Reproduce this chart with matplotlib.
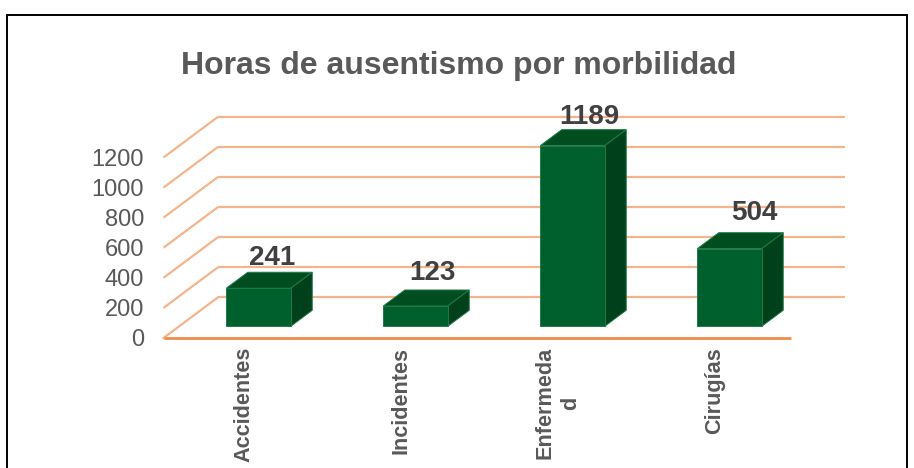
import matplotlib
matplotlib.use("Agg")
import matplotlib.pyplot as plt
from matplotlib.lines import Line2D
from matplotlib.patches import Polygon
from matplotlib.transforms import ScaledTranslation

plt.rcParams['font.family'] = ['Liberation Sans', 'DejaVu Sans']

categories = ["Accidentes", "Incidentes", "Enfermeda\nd", "Cirugías"]
values = [241, 123, 1189, 504]
y_ticks = [0, 200, 400, 600, 800, 1000, 1200]
title = "Horas de ausentismo por morbilidad"

W, H = 914, 468
fig = plt.figure(figsize=(W / 100, H / 100), dpi=100, facecolor='white')
L, R, B, T = 163.5, 791.5, 338.0, 157.5
ax = fig.add_axes([L / W, 1 - B / H, (R - L) / W, (B - T) / H])
ax.set_xlim(-0.5, 3.5)
ax.set_ylim(0, 1200)
ax.patch.set_visible(False)
for s in ax.spines.values():
    s.set_visible(False)

PX_X = 4 / (R - L)          # data units per pixel
PX_Y = 1200 / (B - T)
DX, DY = 54.5 * PX_X, 40.7 * PX_Y      # chart depth
BX, BY = 21.5 * PX_X, 16 * PX_Y        # bar depth
BAR_W = 64.5 * PX_X
BAR_SHIFT = 16.5 * PX_X
BAR_BASE = 11.7 * PX_Y
BAR_LIFT = 1.8 * PX_Y
GRID = '#F4B58C'
FLOOR = '#ED8D4A'
FRONT, TOP, SIDE = '#00602D', '#004D20', '#00401B'
EDGE = '#1E7A48'

# walls
x_end = 3.5 + (845 - 791.5) * PX_X
for v in y_ticks:
    if v > 0:
        ax.plot([-0.5, -0.5 + DX], [v, v + DY], color=GRID, lw=1.6, clip_on=False, zorder=1,
                solid_capstyle='butt')
    ax.plot([-0.5 + DX, x_end], [v + DY, v + DY], color=GRID, lw=1.6, clip_on=False, zorder=1,
            solid_capstyle='butt')
ax.plot([-0.5, -0.5 + DX], [0, DY], color=GRID, lw=1.6, clip_on=False, zorder=1)
ax.plot([-0.5, 3.5], [0, 0], color=FLOOR, lw=2.0, clip_on=False, zorder=2, solid_capstyle='butt')

# bars
positions = [i + BAR_SHIFT for i in range(len(values))]
for p, v in zip(positions, values):
    x0, x1 = p - BAR_W / 2, p + BAR_W / 2
    y0, y1 = BAR_BASE, v + BAR_BASE + BAR_LIFT
    ax.add_patch(Polygon([(x0, y1), (x1, y1), (x1 + BX, y1 + BY), (x0 + BX, y1 + BY)],
                         fc=TOP, ec=EDGE, lw=0.7, zorder=3, clip_on=False))
    ax.add_patch(Polygon([(x1, y0), (x1 + BX, y0 + BY), (x1 + BX, y1 + BY), (x1, y1)],
                         fc=SIDE, ec=EDGE, lw=0.7, zorder=3, clip_on=False))
ax.bar(positions, [v + BAR_LIFT for v in values], bottom=BAR_BASE, width=BAR_W,
       color=FRONT, edgecolor=EDGE, linewidth=0.7, zorder=4, clip_on=False)

# data labels
label_offsets = [(14, 30), (17, 33), (17, 29), (25, 36)]
for p, v, off in zip(positions, values, label_offsets):
    ax.annotate(str(v), xy=(p, v + BAR_BASE + BAR_LIFT), xytext=off,
                textcoords='offset pixels', ha='center', va='center', fontsize=20,
                fontweight='bold', color='#404040', zorder=6, annotation_clip=False)

# axes labels
ax.set_yticks(y_ticks)
ax.tick_params(axis='y', length=0, pad=14, labelsize=17, labelcolor='#595959')
ax.set_xticks(range(len(categories)))
ax.set_xticklabels(categories, rotation=90, ha='center', va='top', multialignment='center',
                   fontsize=15.6, fontweight='bold', color='#595959', linespacing=1.25)
ax.tick_params(axis='x', length=0, pad=6.5)
shift = ScaledTranslation(2 / 100, 0, fig.dpi_scale_trans)
for lab in ax.get_xticklabels():
    lab.set_transform(lab.get_transform() + shift)

fig.text(459 / W, 1 - 66 / H, title, ha='center', va='center', fontsize=23,
         fontweight='bold', color='#595959')

# outer frame
for xs, ys in [((7.5, 7.5), (468, 15)), ((7.5, 906.5), (15, 15)), ((906.5, 906.5), (15, 468))]:
    fig.add_artist(Line2D([x / W for x in xs], [1 - y / H for y in ys], color='black', lw=1.4))

fig.savefig('out.png', dpi=100)
